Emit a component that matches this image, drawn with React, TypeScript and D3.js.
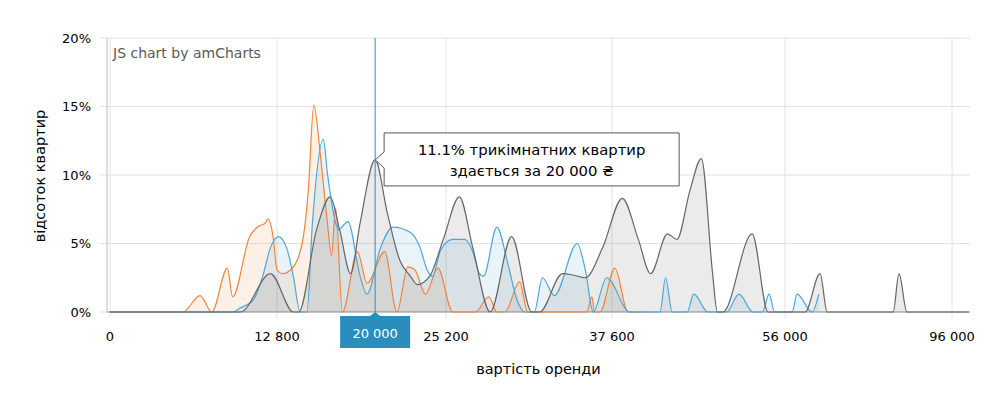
import { useEffect, useRef } from 'react';
import * as d3 from 'd3';

// rent (UAH) -> share of flats (%)
const xTicks = [0, 12800, 25200, 37600, 56000, 96000];
const yTicks = [0, 5, 10, 15, 20];

const oneRoom: [number, number][] = [
  [0, 0], [5600, 0], [6900, 1.2], [7800, 0], [9000, 3.2], [9400, 1.1], [10700, 5.5],
  [11300, 6.2], [11900, 6.5], [12100, 6.8], [12500, 5.5], [12800, 3.1], [13200, 2.8],
  [14000, 3.3], [14700, 5.3], [15100, 8.9], [15500, 15.1], [16000, 11.3], [16500, 6.5],
  [16800, 4.1], [17100, 7.6], [17600, 0], [18700, 4.4], [19400, 2.1], [20700, 4.4],
  [21600, 0], [22400, 3.3], [22900, 3.1], [23700, 1.3], [24600, 3.2], [25700, 0],
  [27400, 0], [28400, 1.1], [29000, 0], [29600, 0], [30700, 2.2], [31300, 0], [35700, 0],
  [36100, 1.1], [36300, 0], [36700, 0], [37900, 3.2], [39300, 0], [41000, 0],
];

const twoRoom: [number, number][] = [
  [0, 0], [9400, 0], [10000, 0.3], [11000, 0.9], [11700, 2.6], [12300, 4.7], [12900, 5.5],
  [13500, 4.7], [14000, 2.6], [14500, 0], [15000, 0], [15400, 6.5], [16200, 12.6],
  [16500, 10.1], [17200, 6.2], [17300, 6.0], [18000, 6.6], [18900, 2.6], [19400, 1.3],
  [20400, 4.7], [21300, 6.2], [22600, 5.8], [23300, 4.7], [23800, 3.1], [24200, 2.6],
  [24800, 4.5], [25700, 5.3], [26600, 5.3], [27200, 4.4], [27700, 2.8], [28000, 2.6],
  [29000, 6.2], [29800, 3.6], [30500, 0.9], [31100, 0], [31800, 0], [32400, 2.5],
  [33300, 1.2], [35000, 5.0], [35600, 3.1], [36200, 0], [37200, 2.5], [39500, 0],
  [42700, 0], [43300, 2.5], [44000, 0], [45600, 0], [46300, 1.3], [47800, 0], [49800, 0],
  [51100, 1.3], [52600, 0], [53600, 0], [54300, 1.3], [54900, 0], [57700, 0], [58900, 1.3],
  [62500, 0], [64100, 1.3],
];

const threeRoom: [number, number][] = [
  [0, 0], [10000, 0], [12300, 2.8], [14000, 0], [14400, 0], [15700, 6.0], [16700, 8.4],
  [17400, 6.0], [18200, 2.8], [18900, 6.5], [20000, 11.1], [20900, 7.2], [21800, 3.8],
  [22600, 2.6], [23100, 2.0], [24000, 2.6], [25000, 5.3], [26200, 8.4], [27200, 4.7],
  [28500, 0], [30100, 5.5], [31600, 0], [32200, 0], [33900, 2.8], [34700, 2.7],
  [35600, 2.5], [36900, 4.7], [38700, 8.3], [40400, 5.3], [41700, 2.8], [43500, 5.7],
  [44500, 5.3], [45900, 8.9], [47100, 11.2], [48300, 2.8], [48800, 0], [49400, 0],
  [52500, 5.7], [54200, 0], [60800, 0], [64400, 2.8], [66100, 0], [81900, 0], [83300, 2.8],
  [85200, 0], [100000, 0],
];

const cursorRent = 20000;
const cursorShare = 11.1;

const series = [
  { data: oneRoom, color: '#f0843c', fillOpacity: 0.12 },
  { data: twoRoom, color: '#4ea7d8', fillOpacity: 0.13 },
  { data: threeRoom, color: '#666666', fillOpacity: 0.13 },
];

const fmt = (v: number) => d3.format(',')(v).replace(/,/g, ' ');

export default function App() {
  const svgRef = useRef<SVGSVGElement>(null);
  const width = 1007;
  const height = 398;

  useEffect(() => {
    if (!svgRef.current) return;
    const svg = d3.select(svgRef.current);
    svg.selectAll('*').remove();

    const left = 107, right = 970, top = 38, bottom = 312;
    const font = '"DejaVu Sans", Verdana, sans-serif';

    const x = d3.scaleLinear()
      .domain(xTicks)
      .range([110, 277, 446, 612, 785, 952]);
    const y = d3.scaleLinear().domain([0, 20]).range([bottom, top]);

    svg.append('rect').attr('width', width).attr('height', height).attr('fill', '#fff');

    // grid
    svg.append('g').selectAll('line').data(yTicks).join('line')
      .attr('x1', left - 7).attr('x2', right)
      .attr('y1', d => y(d)).attr('y2', d => y(d))
      .attr('stroke', '#e2e2e2');
    svg.append('g').selectAll('line').data(xTicks).join('line')
      .attr('x1', d => x(d)).attr('x2', d => x(d))
      .attr('y1', top).attr('y2', bottom + 6)
      .attr('stroke', '#e2e2e2');

    svg.append('line').attr('x1', left).attr('x2', left).attr('y1', top).attr('y2', bottom)
      .attr('stroke', '#bbb');
    svg.append('line').attr('x1', left).attr('x2', right).attr('y1', bottom).attr('y2', bottom)
      .attr('stroke', '#999');

    // tick labels
    svg.append('g').selectAll('text').data(yTicks).join('text')
      .attr('x', 91).attr('y', d => y(d)).attr('dy', '0.35em')
      .attr('text-anchor', 'end')
      .style('font-family', font).style('font-size', '13px').attr('fill', '#000')
      .text(d => d + '%');
    svg.append('g').selectAll('text').data(xTicks).join('text')
      .attr('x', d => x(d)).attr('y', 341)
      .attr('text-anchor', 'middle')
      .style('font-family', font).style('font-size', '13px').attr('fill', '#000')
      .text(d => fmt(d));

    // axis titles
    svg.append('text')
      .attr('x', (left + right) / 2).attr('y', 374)
      .attr('text-anchor', 'middle')
      .style('font-family', font).style('font-size', '14.5px')
      .text('вартість оренди');
    svg.append('text')
      .attr('transform', `translate(45,${(top + bottom) / 2 + 1}) rotate(-90)`)
      .attr('text-anchor', 'middle')
      .style('font-family', font).style('font-size', '14.5px')
      .text('відсоток квартир');

    svg.append('text')
      .attr('x', 113).attr('y', 58)
      .style('font-family', font).style('font-size', '14px').attr('fill', '#5a5a5a')
      .text('JS chart by amCharts');

    // series
    svg.append('clipPath').attr('id', 'plot-clip')
      .append('rect').attr('x', left).attr('y', top - 2)
      .attr('width', right - left).attr('height', bottom - top + 3);

    const area = d3.area<[number, number]>()
      .x(d => x(d[0])).y0(y(0)).y1(d => y(d[1]))
      .curve(d3.curveMonotoneX);
    const line = d3.line<[number, number]>()
      .x(d => x(d[0])).y(d => y(d[1]))
      .curve(d3.curveMonotoneX);

    const plot = svg.append('g').attr('clip-path', 'url(#plot-clip)');
    series.forEach(s => {
      plot.append('path').datum(s.data)
        .attr('d', area)
        .attr('fill', s.color).attr('fill-opacity', s.fillOpacity);
    });
    series.forEach(s => {
      plot.append('path').datum(s.data)
        .attr('d', line)
        .attr('fill', 'none').attr('stroke', s.color).attr('stroke-width', 1.2);
    });

    // cursor
    const cx = x(cursorRent);
    const cy = y(cursorShare);
    const cursorColor = '#2b8cbe';
    svg.append('line')
      .attr('x1', cx).attr('x2', cx).attr('y1', top).attr('y2', bottom)
      .attr('stroke', cursorColor).attr('stroke-width', 1);

    const cat = svg.append('g');
    cat.append('path')
      .attr('d', `M${cx - 35},${bottom + 4} H${cx - 5} L${cx},${bottom} L${cx + 5},${bottom + 4} H${cx + 35} V${bottom + 36} H${cx - 35} Z`)
      .attr('fill', cursorColor);
    cat.append('text')
      .attr('x', cx).attr('y', bottom + 26)
      .attr('text-anchor', 'middle')
      .style('font-family', font).style('font-size', '13px').attr('fill', '#fff')
      .text(fmt(cursorRent));

    // balloon
    const bx = cx + 9, bw = 295, bt = cy - 27, bh = 53;
    const tip = svg.append('g');
    tip.append('path')
      .attr('d', `M${bx},${bt} H${bx + bw} V${bt + bh} H${bx} V${cy + 8} L${cx},${cy} L${bx},${cy - 8} Z`)
      .attr('fill', '#fff').attr('stroke', '#555').attr('stroke-width', 1);
    tip.append('text')
      .attr('x', bx + bw / 2).attr('y', cy - 4.5)
      .attr('text-anchor', 'middle')
      .style('font-family', font).style('font-size', '14.8px')
      .text(`${cursorShare}% трикімнатних квартир`);
    tip.append('text')
      .attr('x', bx + bw / 2).attr('y', cy + 16.5)
      .attr('text-anchor', 'middle')
      .style('font-family', font).style('font-size', '14.8px')
      .text(`здається за ${fmt(cursorRent)} ₴`);
  }, []);

  return (
    <svg ref={svgRef} width={width} height={height}
      style={{ position: 'absolute', left: 0, top: 0, display: 'block' }} />
  );
}
